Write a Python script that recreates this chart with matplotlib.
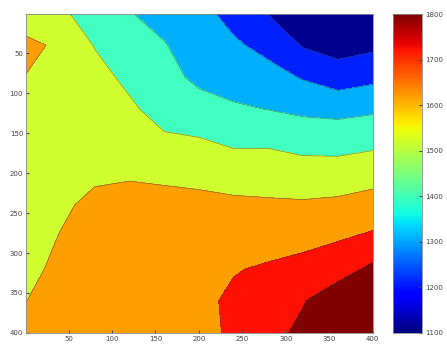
import numpy as np
import matplotlib
matplotlib.use("Agg")
import matplotlib.pyplot as plt
from matplotlib import cm, colors

# grid positions (x across, y down)
x_pos = [0, 40, 80, 120, 160, 200, 240, 280, 320, 360, 400]
y_pos = [0, 40, 80, 120, 160, 200, 240, 280, 320, 360, 400]

# values per column (one list per x position, top to bottom in y)
col_0 = [1530, 1630, 1598, 1560, 1550, 1545, 1550, 1560, 1575, 1598, 1620]
col_40 = [1520, 1580, 1565, 1555, 1555, 1565, 1585, 1603, 1620, 1635, 1645]
col_80 = [1450, 1496, 1530, 1545, 1560, 1585, 1620, 1640, 1650, 1655, 1660]
col_120 = [1404, 1445, 1480, 1515, 1555, 1590, 1630, 1650, 1660, 1665, 1670]
col_160 = [1370, 1405, 1435, 1465, 1515, 1580, 1632, 1655, 1668, 1675, 1680]
col_200 = [1332, 1355, 1377, 1442, 1508, 1570, 1628, 1660, 1675, 1680, 1685]
col_240 = [1265, 1315, 1360, 1412, 1485, 1550, 1622, 1655, 1695, 1715, 1708]
col_280 = [1195, 1270, 1335, 1398, 1485, 1550, 1615, 1665, 1710, 1750, 1772]
col_320 = [1150, 1192, 1292, 1380, 1465, 1542, 1612, 1672, 1730, 1795, 1820]
col_360 = [1130, 1160, 1250, 1372, 1460, 1545, 1620, 1690, 1760, 1860, 1875]
col_400 = [1140, 1180, 1275, 1385, 1475, 1560, 1640, 1715, 1820, 1870, 1890]

levels = [1100, 1200, 1300, 1400, 1500, 1600, 1700, 1800]
cbar_ticks = [1100, 1200, 1300, 1400, 1500, 1600, 1700, 1800]
# fill colour of each band (lower level -> colour)
band_colors = ["#000090", "#0020ff", "#00b0ff", "#40ffc0",
               "#d0ff30", "#ffa000", "#ff1000", "#800000"]

Z = np.array([col_0, col_40, col_80, col_120, col_160, col_200,
              col_240, col_280, col_320, col_360, col_400]).T
X, Y = np.meshgrid(x_pos, y_pos)

fig = plt.figure(figsize=(4.47, 3.45), dpi=100)
ax = fig.add_axes([0.058, 0.035, 0.776, 0.924])

bounds = [1000] + levels[1:] + [2000]
ax.contourf(X, Y, Z, levels=bounds, colors=band_colors)
ax.contour(X, Y, Z, levels=levels[1:], colors="#404040", linewidths=0.5, alpha=0.6)

ax.set_xlim(1, 400)
ax.set_ylim(400, 1)
ax.set_xticks([50, 100, 150, 200, 250, 300, 350, 400])
ax.set_yticks([50, 100, 150, 200, 250, 300, 350, 400])
ax.tick_params(direction="in", length=2, labelsize=5, pad=2, colors="#444444")
for s in ax.spines.values():
    s.set_color("#888888")
    s.set_linewidth(0.6)

norm = colors.Normalize(vmin=levels[0], vmax=levels[-1])
cax = fig.add_axes([0.879, 0.035, 0.065, 0.924])
sm = cm.ScalarMappable(norm=norm, cmap=plt.get_cmap("jet"))
cb = fig.colorbar(sm, cax=cax, ticks=cbar_ticks)
cb.ax.tick_params(direction="in", length=2, labelsize=5, pad=2, colors="#444444")
cb.outline.set_edgecolor("#888888")
cb.outline.set_linewidth(0.6)

fig.savefig("out.png", dpi=100)
